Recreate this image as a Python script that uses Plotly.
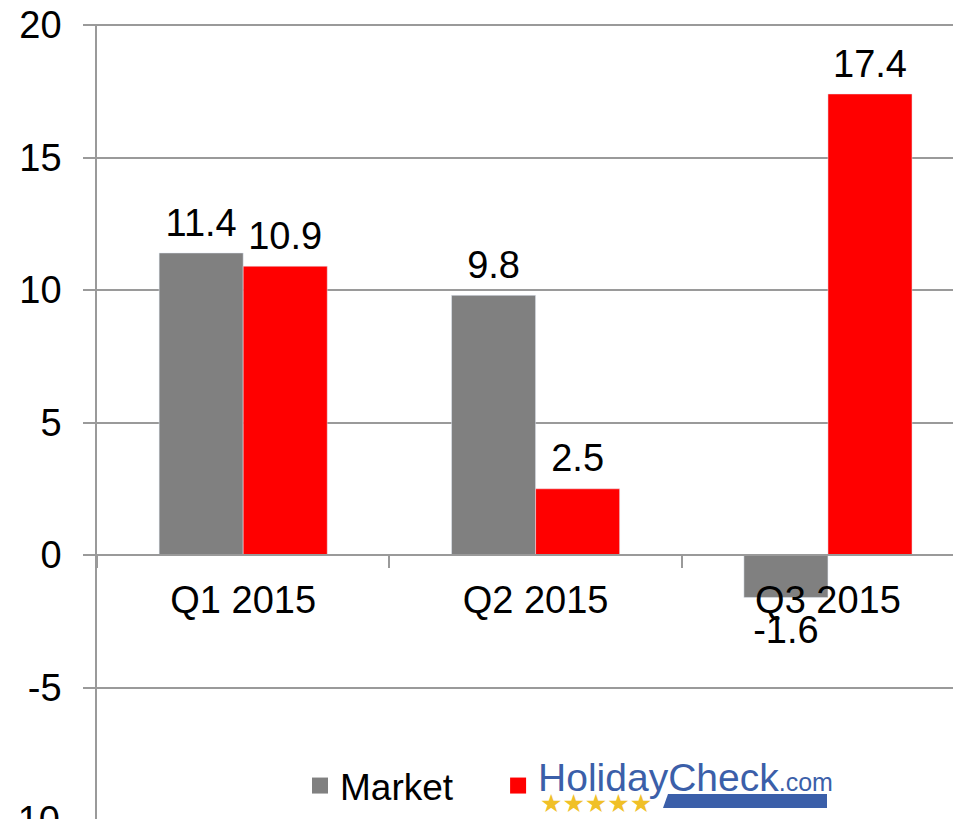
import plotly.graph_objects as go

# data
quarters = ["Q1 2015", "Q2 2015", "Q3 2015"]
market = [11.4, 9.8, -1.6]
holidaycheck = [10.9, 2.5, 17.4]
y_ticks = [-5, 0, 5, 10, 15, 20]
y_ticktext = ["-5", "0", "5", "10", "15", "20"]

FONT = "Liberation Sans, Arial, sans-serif"
GRID = "#9a9a9a"
HC_BLUE = "#3b5fa9"

# page body has an 8px margin, so the figure is drawn 8px in from the corner
OFF = 8
W, H = 961 - OFF, 819 - OFF
M_L, M_T, M_R, M_B = 97 - OFF, 24 - OFF, 0, 0
Y_RANGE = [-9.96, 20.04]
zero_frac = -Y_RANGE[0] / (Y_RANGE[1] - Y_RANGE[0])


def px(x, y):
    """page pixel -> paper coords (decorations only)"""
    return ((x - OFF - M_L) / (W - M_L - M_R),
            (H - M_B - (y - OFF)) / (H - M_T - M_B))


fig = go.Figure()
for name, vals, color in [("Market", market, "#808080"),
                          ("HolidayCheck", holidaycheck, "#ff0000")]:
    fig.add_trace(go.Bar(x=quarters, y=vals, name=name, marker_color=color,
                         offsetgroup=name, showlegend=False))
    # value labels: invisible markers set the distance from the bar end
    fig.add_trace(go.Scatter(
        x=quarters, y=vals, mode="markers+text", offsetgroup=name, showlegend=False,
        text=[f"{v:.1f}" for v in vals],
        textposition=["top center" if v >= 0 else "bottom center" for v in vals],
        marker=dict(size=[11 if v >= 0 else 25 for v in vals], opacity=0),
        textfont=dict(size=38, color="black"), cliponaxis=False, hoverinfo="skip",
    ))

# legend entries (square swatches, bigger than the default bar swatch)
mk_name = "Market<span style='font-size:48px'>\u00a0\u00a0\u00a0</span>"
hc_name = (f"<span style='color:{HC_BLUE};font-size:39px;baseline-shift:9px'>HolidayCheck</span>"
           f"<span style='color:{HC_BLUE};font-size:25px;baseline-shift:9px'>.com</span>")
for name, color in [(mk_name, "#808080"), (hc_name, "#ff0000")]:
    fig.add_trace(go.Scatter(x=[None], y=[None], mode="markers", name=name,
                             marker=dict(symbol="square", size=20, color=color)))

# logo decorations: stars and blue underline
sx, sy = px(538, 803)
fig.add_annotation(text="★★★★★", xref="paper", yref="paper", x=sx, y=sy,
                   xanchor="left", yanchor="middle", showarrow=False,
                   font=dict(family="DejaVu Sans", size=25, color="#f0c028"))
p = [px(668, 794), px(827, 794), px(827, 808), px(663, 808)]
fig.add_shape(type="path", xref="paper", yref="paper", line_width=0, fillcolor=HC_BLUE,
              path="M {} {} L {} {} L {} {} L {} {} Z".format(*[c for pt in p for c in pt]))

# "-10" tick label, cut off by the window edge
ly = (-10 - Y_RANGE[0]) / (Y_RANGE[1] - Y_RANGE[0])
fig.add_annotation(text="-10", xref="paper", yref="paper", x=0, y=ly, xshift=-35,
                   xanchor="right", yanchor="middle", showarrow=False,
                   font=dict(size=38, color="black"))

fig.update_layout(
    width=W, height=H, margin=dict(l=M_L, r=M_R, t=M_T, b=M_B, autoexpand=False),
    paper_bgcolor="white", plot_bgcolor="white",
    font=dict(family=FONT, size=38, color="black"),
    barmode="group", bargap=0.425, bargroupgap=0,
    scattermode="group", scattergap=0.425,
    xaxis=dict(range=[-0.5, 2.455], anchor="free", position=zero_frac, automargin=False,
               showline=True, linecolor=GRID, linewidth=1.5,
               ticks="outside", tickson="boundaries", ticklen=12, tickcolor=GRID, tickwidth=1.5,
               showgrid=False, tickfont=dict(size=38), ticklabelstandoff=12),
    yaxis=dict(range=Y_RANGE, tickvals=y_ticks, ticktext=y_ticktext, automargin=False,
               showgrid=True, gridcolor=GRID, gridwidth=1.5, ticklabeloverflow="allow",
               zeroline=False, showline=True, linecolor=GRID, linewidth=1.5,
               ticks="outside", ticklen=12, tickcolor=GRID, tickwidth=1.5,
               tickfont=dict(size=38), ticklabelstandoff=14),
    legend=dict(orientation="h", x=px(300, 0)[0], y=px(0, 786)[1], xanchor="left",
                yanchor="middle", font=dict(size=37), bgcolor="rgba(0,0,0,0)",
                traceorder="normal", itemclick=False),
    showlegend=True,
)

fig.write_html("out.html")
